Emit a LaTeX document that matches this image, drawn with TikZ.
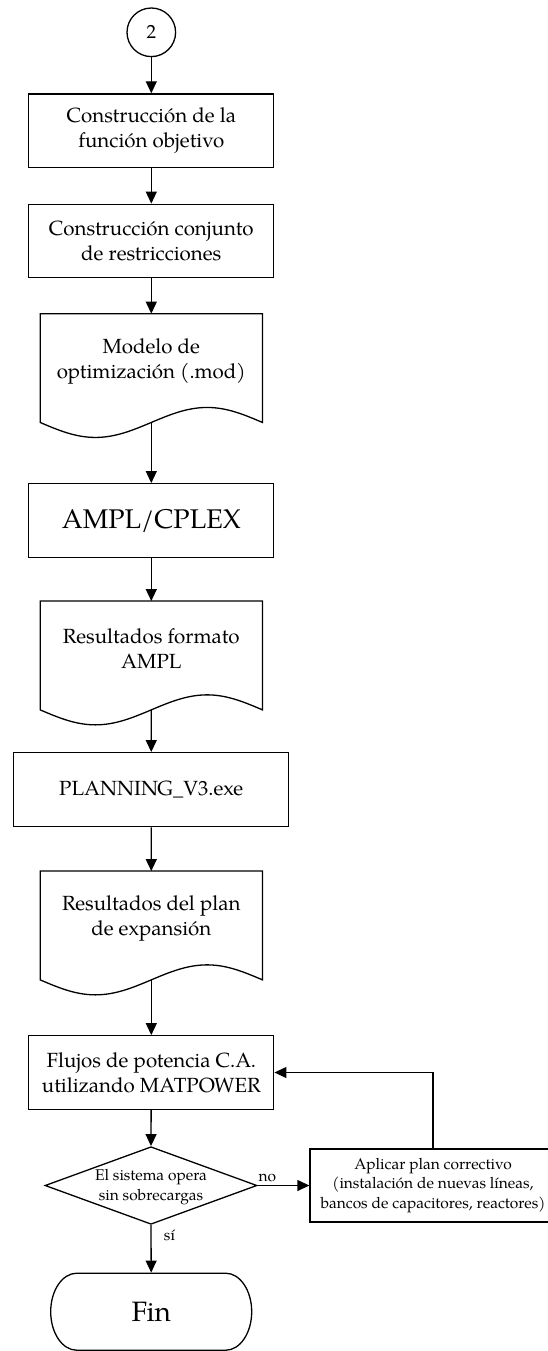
\documentclass[tikz,border=0pt]{standalone}
\usepackage{fontspec}
\setmainfont{TeX Gyre Pagella}
\usetikzlibrary{arrows.meta,shapes.geometric}

% outline of a "document" symbol drawn on an invisible frame node
\newcommand\drawdoc[1]{%
  \draw (#1.south west) -- (#1.north west) -- (#1.north east) -- (#1.south east)
    sin ([xshift=-55.25pt,yshift=15pt]#1.south east)
    cos (#1.south)
    sin ([xshift=55.25pt,yshift=-15pt]#1.south west)
    cos (#1.south west) -- cycle;}

\begin{document}
\begin{tikzpicture}[x=1pt,y=-1pt,
  line width=1.3pt,
  flow/.style={-{Triangle[length=12pt,width=11pt]}},
  maintext/.style={font=\fontsize{20.5}{25}\selectfont},
  smalltext/.style={align=center,inner sep=0pt,font=\fontsize{15.5}{19.3}\selectfont},
  procbox/.style={draw,rectangle,minimum width=245pt,minimum height=73.5pt,
    inner sep=0pt,align=center,maintext},
  docframe/.style={rectangle,minimum width=221pt,minimum height=107.5pt,inner sep=0pt},
  doctext/.style={align=center,inner sep=0pt,maintext},
]
\useasboundingbox (0,0) rectangle (548,1351);
\clip (0,0) rectangle (548,1351);

% connector circle
\node[draw,circle,minimum size=48.6pt,inner sep=0pt,font=\fontsize{19}{23}\selectfont]
  (start) at (151.3,32.3) {2};

% processes and documents
\node[procbox] (obj) at (151.3,130.7) {Construcción de la\\función objetivo};
\node[procbox] (res) at (151.3,241) {Construcción conjunto\\de restricciones};

\node[docframe] (mod) at (151.3,368.05) {};
\drawdoc{mod}
\node[doctext] (modt) at (151.3,361.3) {Modelo de\\optimización (.mod)};

\node[procbox,font=\fontsize{27}{32}\selectfont] (ampl) at (151.3,520.5) {AMPL/CPLEX};

\node[docframe] (out) at (151.3,655.45) {};
\drawdoc{out}
\node[doctext] (outt) at (151.3,648.7) {Resultados formato\\AMPL};

\node[procbox,minimum width=275pt,minimum height=74pt] (plan) at (151.2,789.7) {PLANNING\_V3.exe};

\node[docframe] (exp) at (151.3,925.45) {};
\drawdoc{exp}
\node[doctext] (expt) at (151.3,918.7) {Resultados del plan\\de expansión};

\node[procbox] (pf) at (151.3,1072.5) {Flujos de potencia C.A.\\utilizando MATPOWER};

% decision
\node[draw,diamond,minimum width=212pt,minimum height=77.6pt,inner sep=0pt]
  (dec) at (151,1185.5) {};
\node[smalltext] (dect) at (151,1187) {El sistema opera\\sin sobrecargas};

% corrective plan
\node[draw,rectangle,minimum width=246pt,minimum height=73pt,inner sep=0pt,
  align=center,font=\fontsize{15.5}{19.3}\selectfont]
  (fix) at (433,1185.5) {Aplicar plan correctivo\\(instalación de nuevas líneas,\\bancos de capacitores, reactores)};

% terminal with elliptical ends
\node[rectangle,minimum width=201pt,minimum height=77pt,inner sep=0pt,
  font=\fontsize{28}{34}\selectfont] (fin) at (151.2,1311.7) {Fin};
\begin{scope}[shift={(fin.center)}]
  \draw (-74.5,-38.5) -- (74.5,-38.5)
    .. controls (88.85,-38.5) and (100.5,-21.25) .. (100.5,0)
    .. controls (100.5,21.25) and (88.85,38.5) .. (74.5,38.5)
    -- (-74.5,38.5)
    .. controls (-88.85,38.5) and (-100.5,21.25) .. (-100.5,0)
    .. controls (-100.5,-21.25) and (-88.85,-38.5) .. (-74.5,-38.5) -- cycle;
\end{scope}

% connectors
\draw[flow] (start) -- (obj);
\draw[flow] (obj) -- (res);
\draw[flow] (res) -- (mod.north);
\draw[flow] (mod.south) -- (ampl);
\draw[flow] (ampl) -- (out.north);
\draw[flow] (out.south) -- (plan);
\draw[flow] (plan) -- (exp.north);
\draw[flow] (exp.south) -- (pf);
\draw[flow] (pf) -- (dec.north);
\draw[flow] (dec.east) -- (fix.west);
\draw[flow] (fix.north) |- (pf.east);
\draw[flow] (dec.south) -- (fin.north);

% branch labels
\node[smalltext] (no) at (267.4,1178.3) {no};
\node[smalltext] (si) at (169.5,1235) {sí};
\end{tikzpicture}
\end{document}
